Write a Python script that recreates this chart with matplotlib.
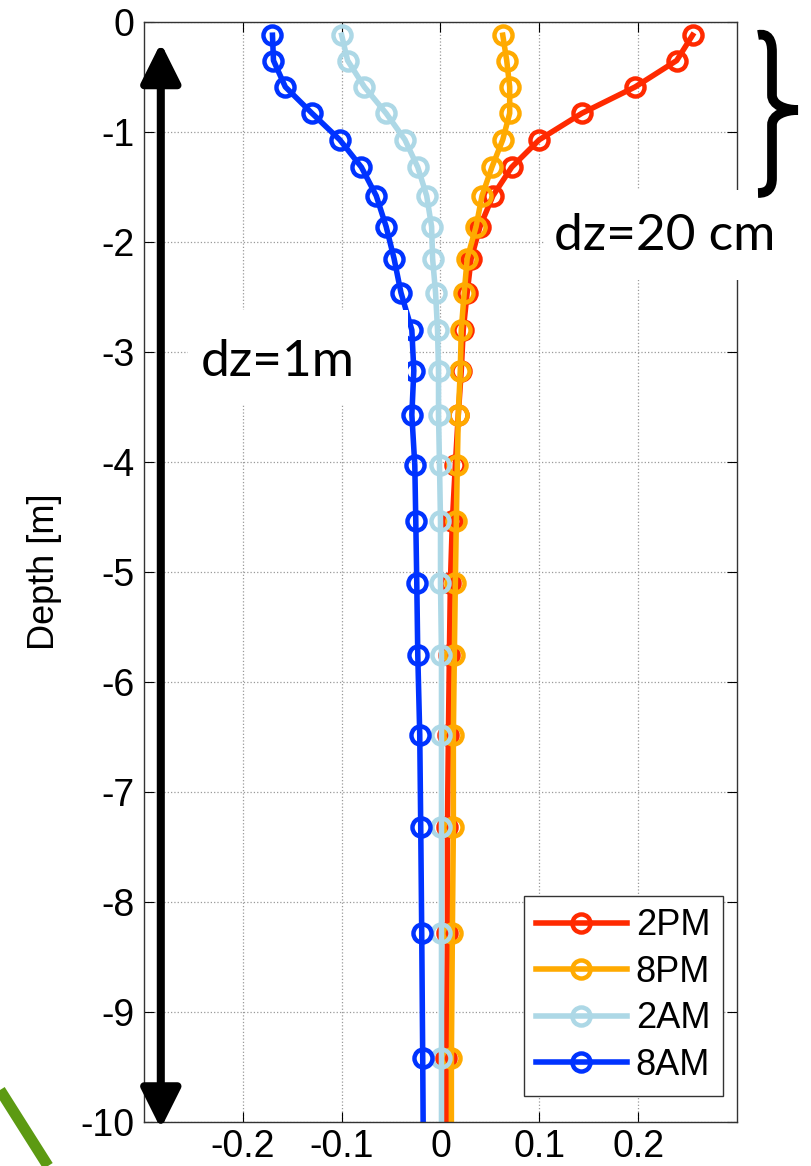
import numpy as np
import matplotlib.pyplot as plt
from matplotlib.path import Path
from matplotlib.patches import PathPatch, Rectangle
from matplotlib.lines import Line2D

plt.rcParams['font.family'] = ['Liberation Sans', 'DejaVu Sans']
plt.rcParams['axes.unicode_minus'] = False

# depth of each model level [m] (last one sits just below the plotted range)
depth = [-0.12, -0.35, -0.59, -0.83, -1.07, -1.32, -1.58, -1.86, -2.15, -2.46,
         -2.80, -3.17, -3.57, -4.03, -4.54, -5.10, -5.75, -6.48, -7.32, -8.28,
         -9.42, -10.75]

pm2 = [0.255, 0.239, 0.197, 0.143, 0.100, 0.072, 0.053, 0.040, 0.031, 0.027,
       0.023, 0.021, 0.018, 0.015, 0.012, 0.010, 0.009, 0.008, 0.007, 0.007,
       0.006, 0.006]
pm8 = [0.063, 0.067, 0.070, 0.070, 0.063, 0.052, 0.042, 0.036, 0.027, 0.024,
       0.021, 0.020, 0.018, 0.017, 0.016, 0.015, 0.014, 0.013, 0.013, 0.012,
       0.011, 0.011]
am2 = [-0.100, -0.094, -0.077, -0.055, -0.036, -0.023, -0.014, -0.009, -0.008, -0.005,
       -0.003, -0.002, -0.002, -0.001, 0.000, 0.000, 0.001, 0.001, 0.001, 0.001,
       0.001, 0.001]
am8 = [-0.170, -0.169, -0.157, -0.130, -0.102, -0.080, -0.065, -0.055, -0.047, -0.040,
       -0.029, -0.027, -0.029, -0.026, -0.025, -0.024, -0.023, -0.021, -0.020, -0.019,
       -0.018, -0.017]

labels = ['2PM', '8PM', '2AM', '8AM']
colors = ['#ff2a00', '#ffaa00', '#add8e6', '#0033ff']
series = [pm2, pm8, am2, am8]

W, H = 812, 1166
fig = plt.figure(figsize=(W / 100, H / 100), dpi=100)
ax = fig.add_axes([144 / W, 1 - 1122 / H, (737 - 144) / W, 1100 / H])

for vals, lab, c in zip(series, labels, colors):
    ax.plot(vals, depth, '-o', color=c, lw=4, ms=13, mew=3.2,
            mfc='none', mec=c, label=lab)

ax.set_xlim(-0.3, 0.3)
ax.set_ylim(-10, 0)
ax.set_xticks([-0.2, -0.1, 0, 0.1, 0.2])
ax.set_xticklabels(['-0.2', '-0.1', '0', '0.1', '0.2'])
ax.set_yticks(range(-10, 1))
ax.set_yticklabels([str(v) for v in range(-10, 1)])
ax.tick_params(direction='in', top=True, right=True, length=7, width=0.8,
               labelsize=27)
ax.tick_params(axis='y', pad=7)
ax.tick_params(axis='x', pad=5)
ax.grid(True, ls=':', color='#999999', lw=0.9)
for s in ax.spines.values():
    s.set_linewidth(1.0)
    s.set_color('#333333')

ax.set_ylabel('Depth [m]', fontsize=26)
ax.yaxis.set_label_coords((62 - 144) / 593, 0.5)

leg = ax.legend(loc='lower right', bbox_to_anchor=(0.976, 0.024), fontsize=26,
                fancybox=False, edgecolor='#333333', framealpha=1,
                handlelength=2.5, handletextpad=0.25, labelspacing=0.32,
                borderpad=0.35, borderaxespad=0)
leg.get_frame().set_linewidth(1.0)

# double headed arrow along the left side
ax.annotate('', xy=(-0.283, -10.06), xytext=(-0.283, -0.19),
            arrowprops=dict(arrowstyle='<|-|>,head_length=2.4,head_width=1.2',
                            mutation_scale=10, lw=5.8, color='black',
                            shrinkA=0, shrinkB=0),
            annotation_clip=False, zorder=6)


def fx(x):
    return x / W


def fy(y):
    return 1 - y / H


# white patches behind annotations
fig.add_artist(Rectangle((fx(188), fy(405)), fx(408) - fx(188), fy(310) - fy(405),
                         transform=fig.transFigure, fc='white', ec='none', zorder=5))
fig.add_artist(Rectangle((fx(545), fy(280)), fx(800) - fx(545), fy(190) - fy(280),
                         transform=fig.transFigure, fc='white', ec='none', zorder=5))

fig.text(fx(278), fy(362), 'dz=1m', fontsize=37, family='Lato',
         ha='center', va='center', zorder=6)
fig.text(fx(665), fy(236), 'dz=20 cm', fontsize=37, family='Lato',
         ha='center', va='center', zorder=6)

# curly brace on the right
pts = [(758, 35), (768, 33), (772, 40), (772, 52),
       (772, 95), (772, 105), (785, 110), (798, 110),
       (785, 110), (772, 115), (772, 125),
       (772, 178), (772, 188), (768, 193), (758, 193)]
codes = [Path.MOVETO, Path.CURVE4, Path.CURVE4, Path.CURVE4,
         Path.LINETO, Path.CURVE4, Path.CURVE4, Path.CURVE4,
         Path.CURVE4, Path.CURVE4, Path.CURVE4,
         Path.LINETO, Path.CURVE4, Path.CURVE4, Path.CURVE4]
brace = Path([(fx(x), fy(y)) for x, y in pts], codes)
fig.add_artist(PathPatch(brace, transform=fig.transFigure, fc='none', ec='black',
                         lw=7, capstyle='butt', zorder=6))

# green brush stroke in the lower left corner
fig.add_artist(Line2D([fx(0), fx(48)], [fy(1090), fy(1166)], transform=fig.transFigure,
                      color='#5c9a12', lw=8, solid_capstyle='butt', zorder=6))

fig.savefig('out.png', dpi=100)
